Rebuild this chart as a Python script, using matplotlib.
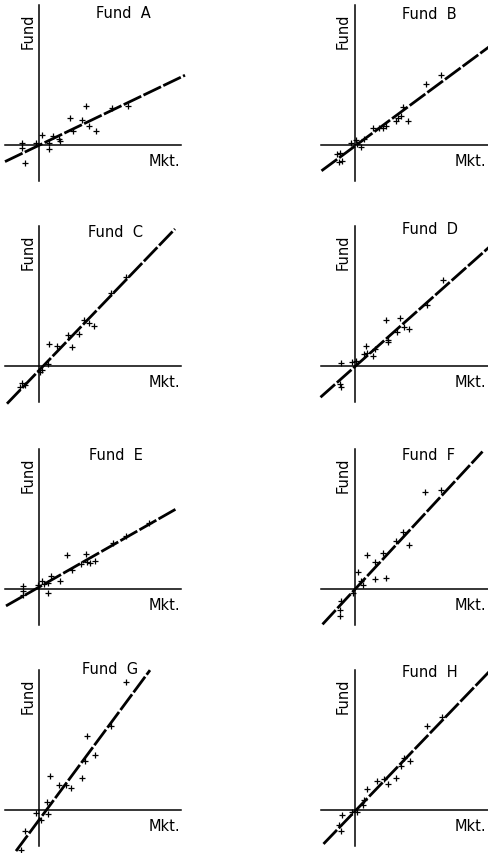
import matplotlib.pyplot as plt
import numpy as np

# fund labels, fitted lines (slope, intercept, x-range) -- units are arbitrary
funds = ['A', 'B', 'C', 'D', 'E', 'F', 'G', 'H']
slopes = [0.48, 0.74, 1.04, 0.89, 0.57, 1.08, 1.35, 1.04]
intercepts = [-0.3, -1.4, -4.4, -1.0, 1.9, -0.8, -10.0, -1.7]
line_lo = [-34, -33, -32, -34, -33, -32, -23, -31]
line_hi = [146, 150, 136, 150, 138, 128, 111, 150]

# scatter points (market, fund)
a_x = [-16.7, -16.7, -14, -3.3, 3.3, 10.3, 10.3, 14.3, 20.3, 21, 31, 33.7, 42.7, 47, 50.3, 57, 72.7, 89.3]
a_y = [2, -3, -18.3, 2, 10.3, 2, -4, 8.7, 6, 4.3, 26.7, 14.3, 25.3, 39.3, 19.3, 14.3, 36.7, 39.3]

b_x = [-17.7, -15, -15.7, -13, -4, 1, 2.7, 6.7, 9, 18.3, 24.3, 28.3, 31.7, 41, 43.3, 46.7, 48.3, 53.3, 71, 86.7]
b_y = [-9.3, -8, -16.7, -16, 2.3, 4.7, 0.7, -2, 5.7, 17.3, 16.7, 17.3, 19, 24, 26.7, 29, 38, 24, 61.3, 69.7]

c_x = [-17, -18.7, -14.3, 0.7, 3, 9, 9.7, 18, 29, 33, 40, 44.7, 49.7, 55, 71.7, 87.3]
c_y = [-16.7, -21, -18.7, -6, -4.3, 2.3, 21.7, 20, 30.7, 19, 32.3, 45.7, 43.3, 40, 73, 89]

d_x = [-14.3, -13.7, -13.7, -2.7, 1.7, 9.7, 11.7, 12.3, 18, 20.7, 31.3, 33, 33, 42.3, 45.7, 49, 54.7, 72.3, 88.3]
d_y = [-17.7, -21, 3.3, 4, 4.7, 11.7, 19.7, 13, 9.7, 17.3, 45.7, 26.3, 24, 34, 48.3, 39, 36.7, 60.7, 86.3]

e_x = [-16, -16, -16, -0.7, 3.3, 5, 9, 9.3, 12.3, 20.7, 28.3, 32.7, 41.7, 47.3, 48.3, 50.7, 55.7, 74, 87.3, 110]
e_y = [2.7, -1.7, -6, 4.3, 8.3, 5, 5.7, -4, 13.3, 7.7, 34.3, 19.3, 25, 35, 27.3, 26, 27.7, 45.7, 52.7, 65.7]

f_x = [-15, -13.7, -14.3, -2, 3.3, 6.7, 8, 12.3, 20, 20.7, 28.3, 31.3, 41.7, 48, 54, 70.7, 86.7]
f_y = [-20.7, -12.3, -26.7, -4, 16.7, 8.3, 4, 34, 27.3, 10, 35.7, 10.7, 47.7, 56.7, 44, 97.3, 99.3]

g_x = [-17.7, -14.3, -3.3, 1.7, 9, 8.3, 10.7, 19.7, 27.3, 31.7, 43.3, 46.3, 48.3, 55.7, 72.3, 87.3]
g_y = [-40, -21.3, -3, -9.7, -4, 8.3, 34.3, 25.3, 25.3, 22, 32, 49.3, 74.3, 55.3, 84.3, 128.3]

h_x = [-16, -13.3, -12.7, -2.7, 2.3, 8.3, 9.7, 12.3, 22.3, 29, 33, 41.7, 46.7, 49, 55, 72.3, 87.3]
h_y = [-15, -20.7, -4.7, -2.3, -1.7, 5, 10.3, 21, 28.7, 31, 26, 32, 44.3, 52, 49.3, 84.3, 92.7]

points = [(a_x, a_y), (b_x, b_y), (c_x, c_y), (d_x, d_y),
          (e_x, e_y), (f_x, f_y), (g_x, g_y), (h_x, h_y)]

W, H = 488, 854
fig = plt.figure(figsize=(W / 100, H / 100), dpi=100)
fig.patch.set_facecolor('white')

# origins of each panel in figure pixels (from top-left)
col_x = [39, 354.5]
row_y = [146, 367, 590, 811]
xlim = (-38, 152)
ylim = (-42, 153)
title_pos = [(84, 133), (75, 132), (77, 134), (76, 137),
             (77, 134), (74, 135), (71, 141), (75, 138)]
mkt_x = [141, 132]

for i, name in enumerate(funds):
    r, c = i // 2, i % 2
    ox, oy = col_x[c], row_y[r]
    left = (ox + xlim[0]) / W
    bottom = (H - (oy - ylim[0])) / H
    ax = fig.add_axes([left, bottom, (xlim[1] - xlim[0]) / W, (ylim[1] - ylim[0]) / H])
    ax.set_xlim(*xlim)
    ax.set_ylim(*ylim)
    ax.patch.set_alpha(0)

    # crossing axes through the origin
    for s in ['top', 'right']:
        ax.spines[s].set_visible(False)
    ax.spines['left'].set_position(('data', 0))
    ax.spines['bottom'].set_position(('data', 0))
    ax.spines['left'].set_bounds(-36, 140)
    ax.spines['bottom'].set_bounds(-34, 142)
    ax.spines['left'].set_linewidth(1.1)
    ax.spines['bottom'].set_linewidth(1.1)
    ax.set_xticks([])
    ax.set_yticks([])

    xs = np.array([line_lo[i], line_hi[i]])
    ax.plot(xs, intercepts[i] + slopes[i] * xs, color='black', lw=2.0,
            linestyle=(0, (7, 0.9)), solid_capstyle='butt', clip_on=False)

    px, py = points[i]
    ax.plot(px, py, linestyle='none', marker='+', markersize=4.5,
            markeredgewidth=0.9, color='black', clip_on=False)

    tx, ty = title_pos[i]
    ax.text(tx, ty, 'Fund  ' + name, ha='center', va='center', fontsize=10.5)
    ax.text(-11, 115, 'Fund', rotation=90, ha='center', va='center', fontsize=10.5)
    ax.text(mkt_x[c], -16, 'Mkt.', ha='right', va='center', fontsize=10.5)

plt.savefig('out.png', dpi=100)
